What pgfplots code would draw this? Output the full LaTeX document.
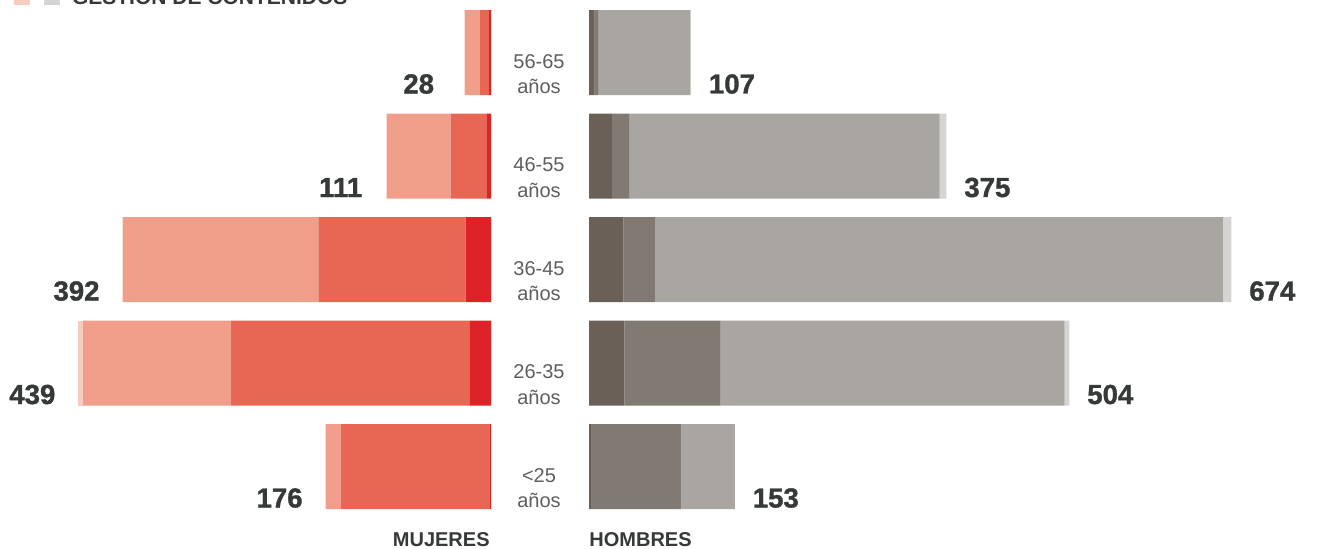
\documentclass[border=0pt]{standalone}
\usepackage{pgfplots}
\pgfplotsset{compat=1.18}
\usepackage{pgfplotstable}
\usepackage{fontspec}
\setmainfont{Liberation Sans}
\newfontfamily\heavyfont[FakeBold=1.2]{Liberation Sans Bold}
\definecolor{wA}{HTML}{DD2328}
\definecolor{wB}{HTML}{E86654}
\definecolor{wC}{HTML}{F09E89}
\definecolor{wD}{HTML}{F7CCBE}
\definecolor{mA}{HTML}{6B6057}
\definecolor{mB}{HTML}{807A73}
\definecolor{mC}{HTML}{A9A5A1}
\definecolor{mD}{HTML}{D5D4D2}
\definecolor{txt}{HTML}{353937}
\definecolor{agec}{HTML}{5E5E5E}

\pgfplotstableread{
y a b c d total
0 1 159 16 0 176
1 23 254 157 5 439
2 27 156 209 0 392
3 4 39 68 0 111
4 2 10 16 0 28
}\women
\pgfplotstableread{
y a b c d total
0 2 95 56 0 153
1 37 101 361 5 504
2 36 33 596 9 674
3 24 18 326 7 375
4 6 4 96 1 107
}\men

\pgfplotsset{
  base/.style={
    y=51.75pt, ymin=-0.5, ymax=4.5, xmin=0,
    hide axis, scale only axis, clip=false,
    /pgf/number format/assume math mode=true,
  },
  pyr/.style={base, xbar stacked, bar width=42.5pt,
    every axis plot/.append style={draw=none}},
  leftax/.style={x=0.470pt, xmax=520, x dir=reverse,
    at={(245.5pt,14.875pt)}, anchor=south east},
  rightax/.style={x=0.4765pt, xmax=760,
    at={(294.5pt,14.875pt)}, anchor=south west},
  totlab/.style={only marks, mark=none, point meta=explicit, nodes near coords,
    every node near coord/.append style={anchor=base, yshift=-20.5pt,
      font=\heavyfont\fontsize{13.8}{16}\selectfont, text=txt}},
}
\newcommand{\agelab}[2]{%
  \node[anchor=base, font=\fontsize{10}{12}\selectfont, text=agec, xshift=-25pt, yshift=-7.75pt] at (axis cs:0,#1) {#2};
  \node[anchor=base, font=\fontsize{10}{12}\selectfont, text=agec, xshift=-25pt, yshift=-20.5pt] at (axis cs:0,#1) {años};
}

\begin{document}
\begin{tikzpicture}
\begin{axis}[pyr, leftax]
\addplot[fill=wA] table[x=a,y=y]{\women};
\addplot[fill=wB] table[x=b,y=y]{\women};
\addplot[fill=wC] table[x=c,y=y]{\women};
\addplot[fill=wD] table[x=d,y=y]{\women};
\end{axis}
\begin{axis}[base, leftax]
\addplot[totlab, every node near coord/.append style={xshift=-23pt}]
  table[x=total,y=y,meta=total]{\women};
\end{axis}
\begin{axis}[pyr, rightax]
\addplot[fill=mA] table[x=a,y=y]{\men};
\addplot[fill=mB] table[x=b,y=y]{\men};
\addplot[fill=mC] table[x=c,y=y]{\men};
\addplot[fill=mD] table[x=d,y=y]{\men};
\agelab{0}{<25}
\agelab{1}{26-35}
\agelab{2}{36-45}
\agelab{3}{46-55}
\agelab{4}{56-65}
\end{axis}
\begin{axis}[base, rightax]
\addplot[totlab, every node near coord/.append style={xshift=20.5pt}]
  table[x=total,y=y,meta=total]{\men};
\end{axis}
% bottom labels
\node[anchor=base east, inner sep=0pt, font=\bfseries\fontsize{10}{12}\selectfont, text=txt] at (245pt,0.9pt) {MUJERES};
\node[anchor=base west, inner sep=0pt, font=\bfseries\fontsize{10}{12}\selectfont, text=txt] at (294.5pt,0.9pt) {HOMBRES};
% legend (mostly above the visible area)
\fill[wD] (7pt,271.5pt) rectangle (15pt,279pt);
\fill[mD] (22pt,271.5pt) rectangle (30pt,279pt);
\node[anchor=base west, inner sep=0pt, font=\bfseries\fontsize{10.5}{12}\selectfont, text=txt] at (35.8pt,271.9pt) {GESTIÓN DE CONTENIDOS};
\pgfresetboundingbox
\useasboundingbox (0,0) rectangle (658.5pt,274pt);
\end{tikzpicture}
\end{document}
